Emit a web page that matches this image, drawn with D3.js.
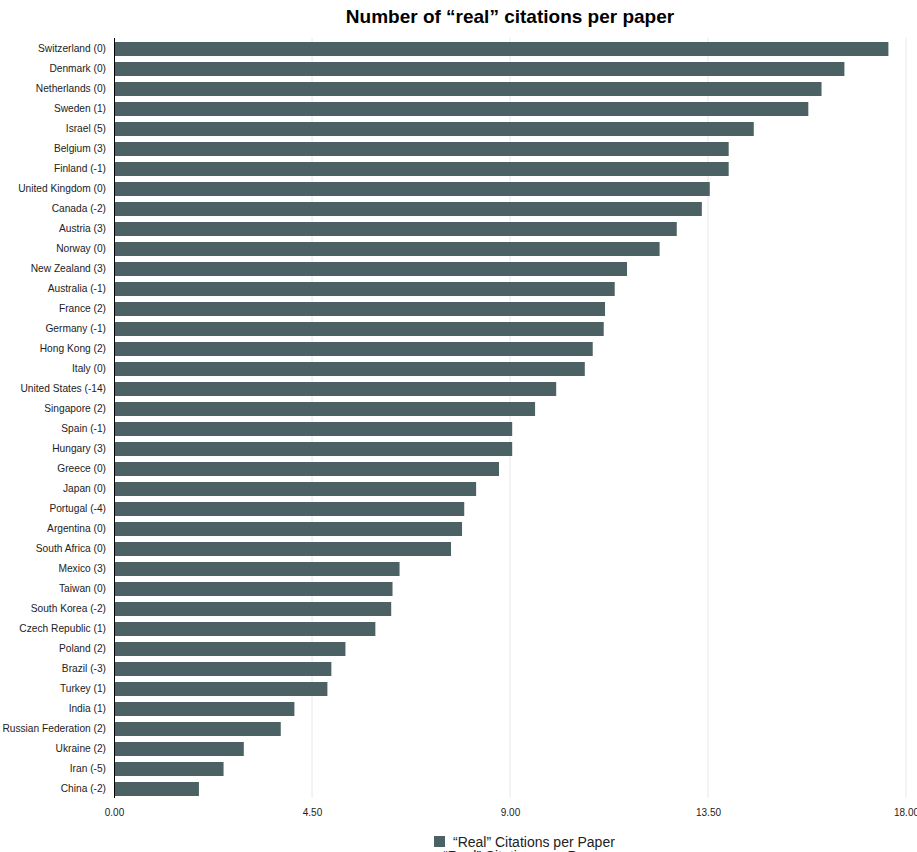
<!DOCTYPE html>
<html>
<head>
<meta charset="utf-8">
<script src="https://cdn.jsdelivr.net/npm/d3@7"></script>
<style>
  body { margin: 0; background: #fff; }
  text { font-family: "Liberation Sans", Arial, Helvetica, sans-serif; }
</style>
</head>
<body>
<div id="visualization"></div>
<script>
let w = 917;
let h = 852;

// countries (rank change in brackets), top to bottom
let countries = ["Switzerland (0)", "Denmark (0)", "Netherlands (0)", "Sweden (1)", "Israel (5)",
  "Belgium (3)", "Finland (-1)", "United Kingdom (0)", "Canada (-2)", "Austria (3)",
  "Norway (0)", "New Zealand (3)", "Australia (-1)", "France (2)", "Germany (-1)",
  "Hong Kong (2)", "Italy (0)", "United States (-14)", "Singapore (2)", "Spain (-1)",
  "Hungary (3)", "Greece (0)", "Japan (0)", "Portugal (-4)", "Argentina (0)",
  "South Africa (0)", "Mexico (3)", "Taiwan (0)", "South Korea (-2)", "Czech Republic (1)",
  "Poland (2)", "Brazil (-3)", "Turkey (1)", "India (1)", "Russian Federation (2)",
  "Ukraine (2)", "Iran (-5)", "China (-2)"];

// "real" citations per paper
let citations = [17.6, 16.6, 16.08, 15.78, 14.54,
  13.97, 13.97, 13.54, 13.36, 12.79,
  12.4, 11.66, 11.38, 11.16, 11.13,
  10.88, 10.7, 10.05, 9.57, 9.05,
  9.05, 8.75, 8.23, 7.96, 7.91,
  7.66, 6.49, 6.33, 6.3, 5.94,
  5.26, 4.94, 4.85, 4.1, 3.79,
  2.95, 2.49, 1.93];

let xTicks = [0, 4.5, 9, 13.5, 18];
let seriesName = "\u201cReal\u201d Citations per Paper";

let data = countries.map((c, i) => ({country: c, value: citations[i]}));

let plotLeft = 114, plotRight = 906, plotTop = 39, plotBottom = 799;
let barColor = "#4b6163";

let viz = d3.select("#visualization")
  .append("svg")
  .attr("width", w)
  .attr("height", h)
;

let xScale = d3.scaleLinear().domain([0, 18]).range([plotLeft, plotRight]);
let yScale = d3.scaleBand().domain(countries).range([plotTop, plotBottom]).paddingInner(0.3).paddingOuter(0.15);

// grid lines
viz.append("g").selectAll("line").data(xTicks.slice(1)).enter()
  .append("line")
  .attr("x1", d => xScale(d)).attr("x2", d => xScale(d))
  .attr("y1", plotTop - 1).attr("y2", plotBottom - 1)
  .attr("stroke", "#e8e8e8")
  .attr("stroke-width", 1)
;

// bars
viz.selectAll(".bar").data(data).enter()
  .append("rect")
  .attr("class", "bar")
  .attr("x", xScale(0))
  .attr("y", d => yScale(d.country))
  .attr("width", d => xScale(d.value) - xScale(0))
  .attr("height", yScale.bandwidth())
  .attr("fill", barColor)
;

// x axis
let xAxis = d3.axisBottom(xScale).tickValues(xTicks).tickFormat(d3.format(".2f")).tickSize(0).tickPadding(10);
let xAxisGroup = viz.append("g").attr("transform", "translate(0," + plotBottom + ")").call(xAxis);
xAxisGroup.select(".domain").remove();
xAxisGroup.selectAll("text").attr("font-size", 10).attr("fill", "#222").style("font-family", "Liberation Sans, Arial, sans-serif");

// y axis
let yAxis = d3.axisLeft(yScale).tickSize(0).tickPadding(8);
let yAxisGroup = viz.append("g").attr("transform", "translate(" + plotLeft + ",0)").call(yAxis);
yAxisGroup.select(".domain").attr("stroke", "#000").attr("d", "M0.5," + (plotTop - 1) + "V" + (plotBottom - 1));
yAxisGroup.selectAll("text").attr("font-size", 10.2).attr("fill", "#222").style("font-family", "Liberation Sans, Arial, sans-serif");

// title
viz.append("text")
  .attr("x", (plotLeft + plotRight) / 2)
  .attr("y", 23)
  .attr("text-anchor", "middle")
  .attr("font-size", 19)
  .attr("font-weight", "bold")
  .attr("fill", "#000")
  .text("Number of \u201creal\u201d citations per paper")
;

// legend
viz.append("rect")
  .attr("x", 434).attr("y", 836)
  .attr("width", 11).attr("height", 11)
  .attr("fill", barColor)
;
viz.append("text")
  .attr("x", 453).attr("y", 847)
  .attr("font-size", 14)
  .attr("fill", "#222")
  .text(seriesName)
;
// clipped duplicate under the legend
viz.append("text")
  .attr("x", 443).attr("y", 861)
  .attr("font-size", 14)
  .attr("fill", "#222")
  .text(seriesName)
;
</script>
</body>
</html>
